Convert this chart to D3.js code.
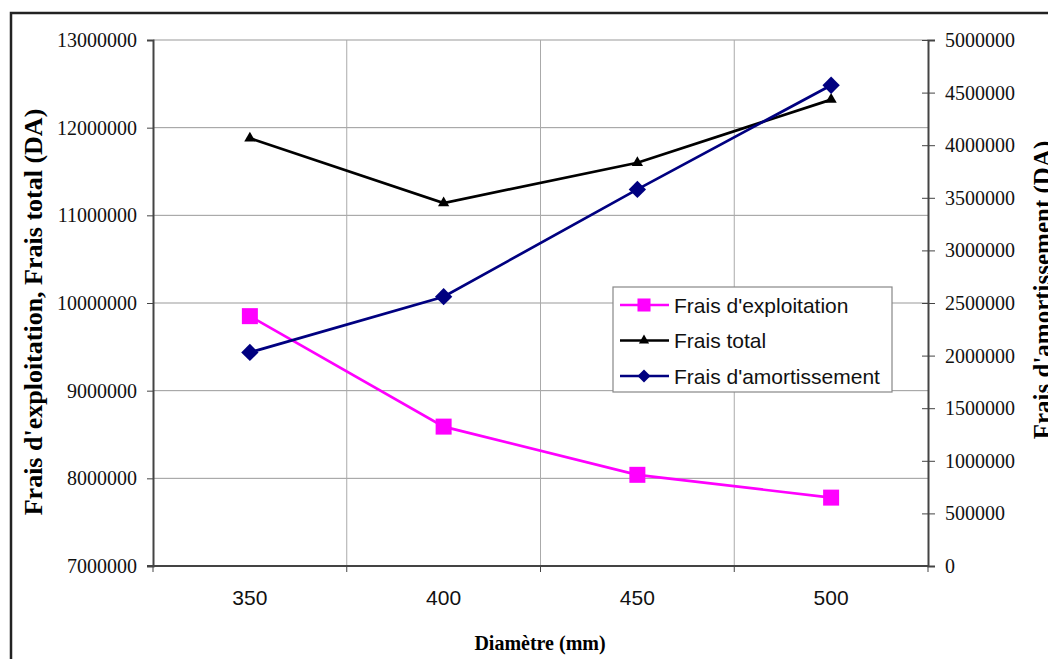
<!DOCTYPE html>
<html>
<head>
<meta charset="utf-8">
<script src="https://cdn.jsdelivr.net/npm/d3@7"></script>
<style>
  html, body { margin: 0; padding: 0; background: #fff; }
  svg { display: block; }
</style>
</head>
<body>
<div id="chart"></div>
<script>
// Frais vs diamètre — two y axes (left: exploitation/total, right: amortissement)

const diametres = ['350', '400', '450', '500'];
const fraisExploitation = [9850000, 8590000, 8040000, 7780000];
const fraisTotal = [11880000, 11140000, 11600000, 12320000];
const fraisAmortissement = [2030000, 2560000, 3580000, 4570000];

const leftTicks = [7000000, 8000000, 9000000, 10000000, 11000000, 12000000, 13000000];
const rightTicks = [0, 500000, 1000000, 1500000, 2000000, 2500000, 3000000, 3500000, 4000000, 4500000, 5000000];

const SERIES = [
  { name: "Frais d'exploitation", values: fraisExploitation, axis: 'left', color: '#ff00ff', marker: 'square' },
  { name: 'Frais total', values: fraisTotal, axis: 'left', color: '#000000', marker: 'triangle' },
  { name: "Frais d'amortissement", values: fraisAmortissement, axis: 'right', color: '#000080', marker: 'diamond' }
];

(function () {
  const W = 1048, H = 659;
  const plot = { left: 153, top: 40, right: 928, bottom: 566 };
  const SERIF = '"Liberation Serif", "Times New Roman", serif';
  const SANS = '"Liberation Sans", Arial, sans-serif';

  const svg = d3.select('#chart').append('svg').attr('width', W).attr('height', H);

  // outer frame (runs off the right and bottom edges)
  svg.append('rect').attr('x', 11).attr('y', 13).attr('width', 1200).attr('height', 800)
    .attr('fill', 'none').attr('stroke', '#222').attr('stroke-width', 2.5);

  const x = d3.scaleBand().domain(diametres).range([plot.left, plot.right]).padding(0);
  const yL = d3.scaleLinear().domain([7000000, 13000000]).range([plot.bottom, plot.top]);
  const yR = d3.scaleLinear().domain([0, 5000000]).range([plot.bottom, plot.top]);

  // gridlines
  const grid = svg.append('g');
  grid.selectAll('line.h').data(leftTicks.slice(1)).enter().append('line')
    .attr('x1', plot.left).attr('x2', plot.right)
    .attr('y1', d => yL(d)).attr('y2', d => yL(d))
    .attr('stroke', '#999').attr('stroke-width', 1);
  const bounds = diametres.map(d => x(d)).concat([plot.right]);
  grid.selectAll('line.v').data(bounds.slice(1, -1)).enter().append('line')
    .attr('x1', d => d).attr('x2', d => d)
    .attr('y1', plot.top).attr('y2', plot.bottom)
    .attr('stroke', '#aaa').attr('stroke-width', 1);

  // left axis
  const gL = svg.append('g').attr('transform', `translate(${plot.left},0)`)
    .call(d3.axisLeft(yL).tickValues(leftTicks).tickSize(6).tickPadding(10).tickFormat(d3.format('d')));
  gL.select('.domain').attr('stroke', '#444').attr('stroke-width', 2);
  gL.selectAll('.tick line').attr('stroke', '#444');
  gL.selectAll('text').style('font-family', SERIF).style('font-size', '20px').attr('fill', '#111');

  // right axis (ticks cross the axis line)
  const gR = svg.append('g').attr('transform', `translate(${plot.right},0)`)
    .call(d3.axisRight(yR).tickValues(rightTicks).tickSize(7).tickPadding(10).tickFormat(d3.format('d')));
  gR.select('.domain').attr('stroke', '#444').attr('stroke-width', 2);
  gR.selectAll('.tick line').attr('x1', -6).attr('stroke', '#444');
  gR.selectAll('text').style('font-family', SERIF).style('font-size', '20px').attr('fill', '#111');

  // bottom axis: ticks at category boundaries, labels centred in bands
  const gB = svg.append('g').attr('transform', `translate(0,${plot.bottom})`);
  gB.append('line').attr('x1', plot.left - 6).attr('x2', plot.right)
    .attr('stroke', '#444').attr('stroke-width', 2);
  gB.selectAll('line.t').data(bounds).enter().append('line')
    .attr('x1', d => d).attr('x2', d => d).attr('y1', 0).attr('y2', 6)
    .attr('stroke', '#444');
  gB.selectAll('text').data(diametres).enter().append('text')
    .attr('x', d => x(d) + x.bandwidth() / 2).attr('y', 39)
    .attr('text-anchor', 'middle')
    .style('font-family', SANS).style('font-size', '21px').attr('fill', '#111')
    .text(d => d);

  // axis titles
  svg.append('text').attr('transform', 'translate(42,312) rotate(-90)')
    .attr('text-anchor', 'middle')
    .style('font-family', SERIF).style('font-size', '26px').style('font-weight', 'bold')
    .text("Frais d'exploitation, Frais total (DA)");
  svg.append('text').attr('transform', 'translate(1051,290) rotate(-90)')
    .attr('text-anchor', 'middle')
    .style('font-family', SERIF).style('font-size', '25px').style('font-weight', 'bold')
    .text("Frais d'amortissement (DA)");
  svg.append('text').attr('x', 540).attr('y', 650)
    .attr('text-anchor', 'middle')
    .style('font-family', SERIF).style('font-size', '20px').style('font-weight', 'bold')
    .text('Diamètre (mm)');

  function markerPath(type, big) {
    if (type === 'square') return d3.symbol(d3.symbolSquare, big ? 256 : 170)();
    if (type === 'triangle') return d3.symbol(d3.symbolTriangle, big ? 55 : 45)();
    return d3.symbol(d3.symbolSquare, big ? 150 : 85)();
  }

  // series
  const cx = d => x(d) + x.bandwidth() / 2;
  SERIES.forEach(s => {
    const y = s.axis === 'left' ? yL : yR;
    const pts = diametres.map((d, i) => [cx(d), y(s.values[i])]);
    svg.append('path').datum(pts)
      .attr('d', d3.line())
      .attr('fill', 'none').attr('stroke', s.color).attr('stroke-width', 2.7);
    svg.append('g').selectAll('path').data(pts).enter().append('path')
      .attr('d', markerPath(s.marker, true))
      .attr('transform', p => `translate(${p[0]},${p[1]})` + (s.marker === 'diamond' ? ' rotate(45)' : ''))
      .attr('fill', s.color);
  });

  // legend
  const lg = svg.append('g').attr('transform', 'translate(613,287)');
  lg.append('rect').attr('width', 279).attr('height', 105)
    .attr('fill', '#fff').attr('stroke', '#888').attr('stroke-width', 1.2);
  SERIES.forEach((s, i) => {
    const ly = 18 + i * 35.5;
    lg.append('line').attr('x1', 7).attr('x2', 56).attr('y1', ly).attr('y2', ly)
      .attr('stroke', s.color).attr('stroke-width', 2.7);
    lg.append('path').attr('d', markerPath(s.marker, false))
      .attr('transform', `translate(31,${ly})` + (s.marker === 'diamond' ? ' rotate(45)' : ''))
      .attr('fill', s.color);
    lg.append('text').attr('x', 61).attr('y', ly + 7.5)
      .style('font-family', SANS).style('font-size', '21px').attr('fill', '#111')
      .text(s.name);
  });
})();
</script>
</body>
</html>
